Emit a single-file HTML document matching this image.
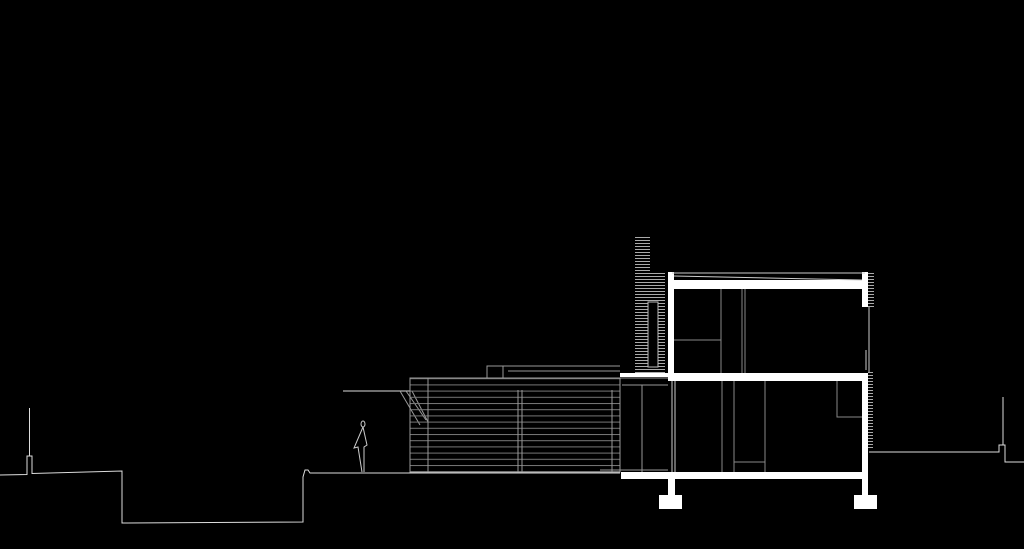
<!DOCTYPE html>
<html><head><meta charset="utf-8"><style>html,body{margin:0;padding:0;background:#000;width:1024px;height:549px;overflow:hidden}svg{display:block}</style></head>
<body>
<svg width="1024" height="549" viewBox="0 0 1024 549" xmlns="http://www.w3.org/2000/svg">
<defs>
<pattern id="h" width="4" height="3" patternUnits="userSpaceOnUse"><rect width="4" height="1" fill="#aaa"/></pattern>
<pattern id="h2" width="4" height="6.2" patternUnits="userSpaceOnUse"><rect width="4" height="1" fill="#777"/></pattern>
</defs>
<g fill="none" stroke="#ddd" stroke-width="1">
<!-- left ground -->
<polyline points="0,475 27,474.5 27,456 32,456 32,473.5 122,471 122,523 303,522 303,477 305,470 308,470 310,473 620,473"/>
<line x1="29.5" y1="408" x2="29.5" y2="456"/>
<!-- right ground -->
<polyline points="869,452 999,452 999,445 1005,445 1005,462 1024,462"/>
<line x1="1003" y1="397" x2="1003" y2="445"/>
<!-- canopy -->
<line x1="343" y1="391" x2="410" y2="391"/>
<line x1="400" y1="391" x2="420" y2="425" stroke="#999"/>
<line x1="406" y1="391" x2="426" y2="420" stroke="#999"/>
<line x1="412" y1="391" x2="428" y2="422" stroke="#999"/>
<!-- person -->
<g stroke="#ccc">
<ellipse cx="363" cy="424" rx="2" ry="3"/>
<polyline points="363,427 354,448 358,447 362,472"/>
<polyline points="363,427 367,445 364,447 364,472"/>
</g>
</g>
<!-- annex -->
<rect x="410" y="378" width="210" height="94" fill="url(#h2)"/>
<g stroke="#999" fill="none">
<rect x="410" y="378" width="210" height="94"/>
<line x1="428" y1="378" x2="428" y2="472"/>
<line x1="518" y1="390" x2="518" y2="472"/>
<line x1="522" y1="390" x2="522" y2="472"/>
<line x1="612" y1="390" x2="612" y2="472"/>
<rect x="487" y="366" width="16" height="12"/>
<polyline points="503,366 620,366"/>
<line x1="508" y1="371" x2="620" y2="371"/>
<line x1="620" y1="378" x2="668" y2="378"/>
<line x1="622" y1="385" x2="668" y2="385"/>
<line x1="642" y1="385" x2="642" y2="472"/>
<line x1="600" y1="470" x2="668" y2="470"/>
</g>
<!-- tower -->
<rect x="635" y="237" width="15" height="36" fill="url(#h)"/>
<rect x="635" y="273" width="30" height="100" fill="url(#h)"/>
<rect x="648" y="302" width="10" height="65" fill="#000" stroke="#bbb"/>
<!-- building white structure -->
<g fill="#fff">
<rect x="668" y="272" width="6" height="109"/>
<rect x="668" y="280" width="200" height="9"/>
<rect x="862" y="272" width="6" height="35"/>
<rect x="620" y="373" width="48" height="4"/>
<rect x="668" y="373" width="200" height="8"/>
<rect x="862" y="373" width="6" height="105"/>
<rect x="621" y="472" width="247" height="7"/>
<rect x="668" y="479" width="7" height="16"/>
<rect x="659" y="495" width="23" height="14"/>
<rect x="862" y="479" width="6" height="16"/>
<rect x="854" y="495" width="23" height="14"/>
</g>
<g stroke="#ccc" fill="none" stroke-width="1">
<line x1="672" y1="273" x2="865" y2="273"/>
<line x1="674" y1="276" x2="862" y2="280"/>
<line x1="672" y1="381" x2="672" y2="472"/>
<line x1="675" y1="381" x2="675" y2="472"/>
<line x1="721" y1="289" x2="721" y2="373" stroke="#888"/>
<line x1="742" y1="289" x2="742" y2="373" stroke="#888"/>
<line x1="745" y1="289" x2="745" y2="373" stroke="#888"/>
<line x1="674" y1="340" x2="721" y2="340" stroke="#888"/>
<line x1="722" y1="381" x2="722" y2="472" stroke="#888"/>
<line x1="734" y1="381" x2="734" y2="472" stroke="#888"/>
<line x1="765" y1="381" x2="765" y2="472" stroke="#888"/>
<line x1="734" y1="462" x2="765" y2="462" stroke="#888"/>
<polyline points="837,381 837,417 862,417" stroke="#888"/>
<line x1="869" y1="307" x2="869" y2="373"/>
<line x1="866" y1="350" x2="866" y2="370"/>
</g>
<rect x="868" y="272" width="6" height="35" fill="url(#h)"/>
<rect x="868" y="370" width="5" height="80" fill="url(#h)"/>
</svg>
</body></html>
